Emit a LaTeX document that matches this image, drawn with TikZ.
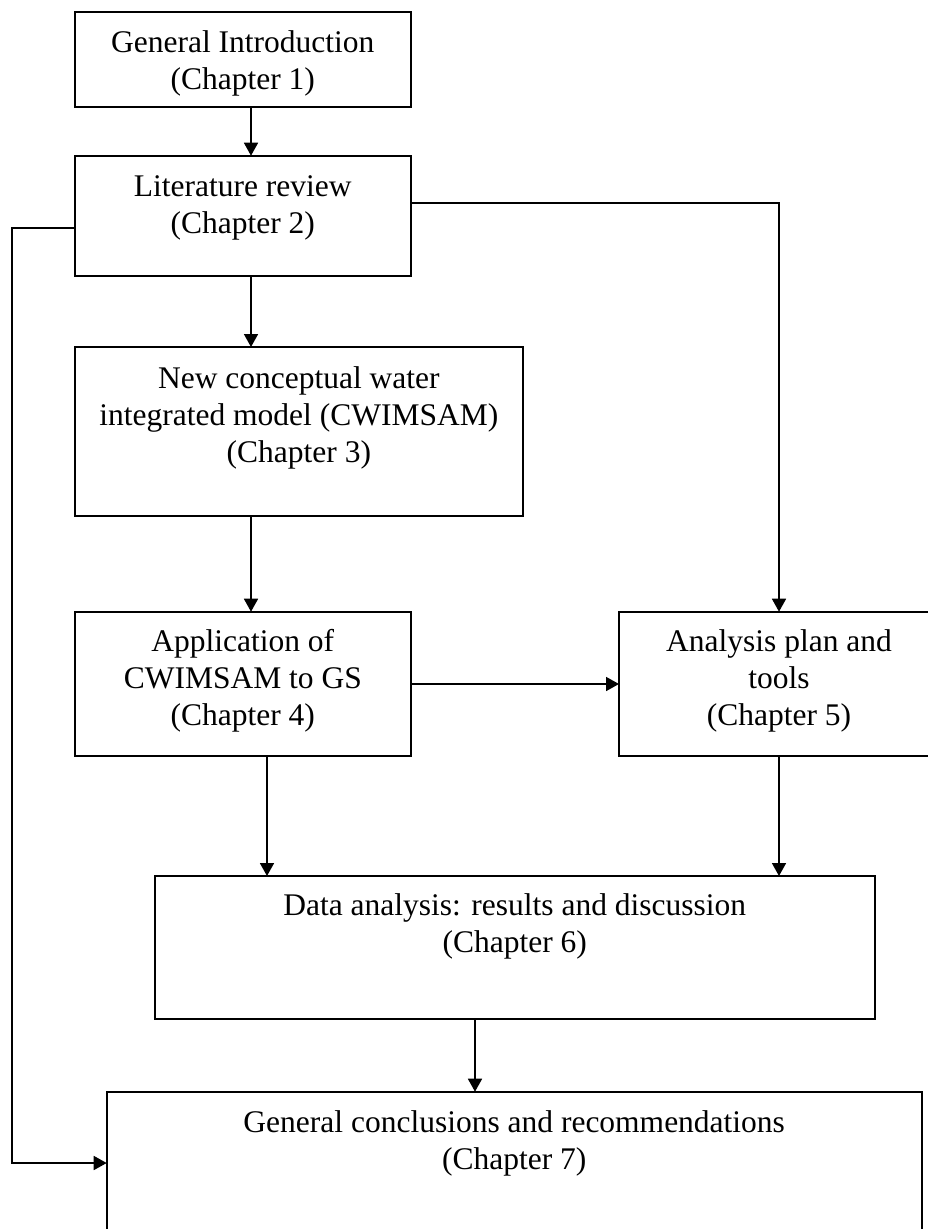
\documentclass[tikz,border=0pt]{standalone}
\usepackage{fontspec}
\setmainfont{Liberation Serif}
\usetikzlibrary{arrows.meta,calc}

% centred block of lines whose reference point is the first baseline
\newcommand\boxlines[1]{\begin{tabular}[t]{@{}c@{}}#1\end{tabular}}
\renewcommand\arraystretch{1}

\begin{document}
\begin{tikzpicture}[
  x=1pt, y=-1pt,
  box/.style={draw, line width=2pt, inner sep=0pt, outer sep=0pt, anchor=north west},
  lbl/.style={anchor=base, inner sep=0pt, outer sep=0pt,
              font=\fontsize{31.5pt}{37pt}\selectfont},
  link/.style={line width=1.7pt},
  arr/.style={link, -{Triangle[length=13pt,width=14pt]}}
]
\useasboundingbox (0,0) rectangle (928,1229);
\clip (0,0) rectangle (928,1229);

% chapter boxes
\node[box, minimum width=336.5pt, minimum height=95.3pt]  (b1) at (74.5,11.7)   {};
\node[box, minimum width=336.5pt, minimum height=120pt]   (b2) at (74.5,155.7)  {};
\node[box, minimum width=447.7pt, minimum height=168.5pt] (b3) at (75,347)      {};
\node[box, minimum width=336.4pt, minimum height=144pt]   (b4) at (74.6,611.7)  {};
\node[box, minimum width=320pt,   minimum height=144pt]   (b5) at (619,611.7)   {};
\node[box, minimum width=719.6pt, minimum height=143.3pt] (b6) at (155,876)     {};
\node[box, minimum width=815pt,   minimum height=150pt]   (b7) at (106.7,1091.7){};

% box texts
\node[lbl] (t1) at ($(b1.north)+(0,41)$) {\boxlines{General Introduction\\(Chapter 1)}};
\node[lbl] (t2) at ($(b2.north)+(0,41)$) {\boxlines{Literature review\\(Chapter 2)}};
\node[lbl] (t3) at ($(b3.north)+(0,41)$) {\boxlines{New conceptual water\\integrated model (CWIMSAM)\\(Chapter 3)}};
\node[lbl] (t4) at ($(b4.north)+(0,40)$) {\boxlines{Application of\\CWIMSAM to GS\\(Chapter 4)}};
\node[lbl] (t5) at ($(b5.north)+(0,40)$) {\boxlines{Analysis plan and\\tools\\(Chapter 5)}};
\node[lbl] (t6) at ($(b6.north)+(0,39)$) {\boxlines{Data analysis: results and discussion\\(Chapter 6)}};
\node[lbl] (t7) at ($(b7.north)+(0,41)$) {\boxlines{General conclusions and recommendations\\(Chapter 7)}};

% connectors
\coordinate (lc) at (11.7,227.7);
\draw[arr] ($(b1.south west)+(176.5,0)$) -- ($(b2.north west)+(176.5,0)$);
\draw[arr] ($(b2.south west)+(176.5,0)$) -- ($(b3.north west)+(176,0)$);
\draw[arr] ($(b2.north east)+(0,47.6)$) -| (b5.north);
\draw[arr] ($(b2.north west)+(0,72)$) -- (lc) |- ($(b7.north west)+(0,71.3)$);
\draw[arr] ($(b3.south west)+(176,0)$) -- ($(b4.north west)+(176.4,0)$);
\draw[arr] ($(b4.north east)+(0,72.3)$) -- ($(b5.north west)+(0,72.3)$);
\draw[arr] ($(b4.south west)+(192.4,0)$) -- ($(b6.north west)+(112,0)$);
\draw[arr] (b5.south) -- (b5.south |- b6.north);
\draw[arr] ($(b6.south west)+(320,0)$) -- ($(b7.north west)+(368.3,0)$);
\end{tikzpicture}
\end{document}
